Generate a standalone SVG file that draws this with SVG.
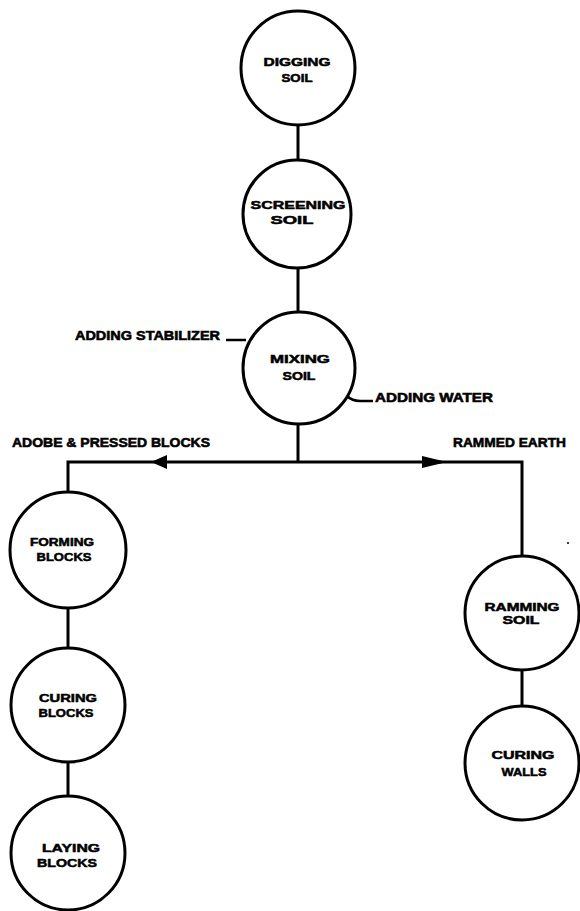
<svg xmlns="http://www.w3.org/2000/svg" width="580" height="911" viewBox="0 0 580 911">
<style>
.node{fill:#fff;stroke:#000;stroke-width:3}
.wire{fill:none;stroke:#000;stroke-width:3}
.lead{fill:none;stroke:#000;stroke-width:2.5}
.head{fill:#000}
.nt{font-family:"Liberation Sans",Arial,sans-serif;font-weight:bold;font-size:11px;fill:#000;stroke:#000;stroke-width:0.5;text-anchor:middle}
.lt{font-family:"Liberation Sans",Arial,sans-serif;font-weight:bold;font-size:13.5px;fill:#000;stroke:#000;stroke-width:0.6}
</style>
<rect width="580" height="911" fill="#fff"/>
<g id="connectors">
<line class="wire" x1="298" y1="125" x2="298" y2="160"/>
<line class="wire" x1="298" y1="268" x2="298" y2="312"/>
<line class="wire" x1="298" y1="424" x2="298" y2="462"/>
<polyline class="wire" points="68,493 68,462 522,462 522,556"/>
<polygon class="head" points="151,462 167,455 167,469"/>
<polygon class="head" points="447,462 422,456 422,468"/>
<line class="wire" x1="68" y1="607" x2="68" y2="648"/>
<line class="wire" x1="68" y1="762" x2="68" y2="796"/>
<line class="wire" x1="522" y1="670" x2="522" y2="706"/>
<path class="lead" d="M226,340 H246"/>
<path class="lead" d="M347,396 Q352,401 360,401 H373"/>
</g>
<g id="labels">
<text class="lt" x="75" y="340" textLength="145" lengthAdjust="spacingAndGlyphs">ADDING STABILIZER</text>
<text class="lt" x="375" y="402" textLength="118" lengthAdjust="spacingAndGlyphs">ADDING WATER</text>
<text class="lt" x="12" y="447" textLength="198" lengthAdjust="spacingAndGlyphs">ADOBE &amp; PRESSED BLOCKS</text>
<text class="lt" x="453" y="447" textLength="113" lengthAdjust="spacingAndGlyphs">RAMMED EARTH</text>
</g>
<g id="digging">
<circle class="node" cx="298" cy="68" r="57"/>
<text class="nt" x="297" y="66" textLength="67" lengthAdjust="spacingAndGlyphs">DIGGING</text>
<text class="nt" x="297" y="82" textLength="31" lengthAdjust="spacingAndGlyphs">SOIL</text>
</g>
<g id="screening">
<circle class="node" cx="297" cy="214" r="54"/>
<text class="nt" x="298" y="209" textLength="95" lengthAdjust="spacingAndGlyphs">SCREENING</text>
<text class="nt" x="292" y="224" textLength="43" lengthAdjust="spacingAndGlyphs">SOIL</text>
</g>
<g id="mixing">
<circle class="node" cx="299" cy="368" r="56"/>
<text class="nt" x="300" y="363" textLength="60" lengthAdjust="spacingAndGlyphs">MIXING</text>
<text class="nt" x="299" y="380" textLength="33" lengthAdjust="spacingAndGlyphs">SOIL</text>
</g>
<g id="forming">
<circle class="node" cx="68" cy="550" r="58"/>
<text class="nt" x="62" y="546" textLength="64" lengthAdjust="spacingAndGlyphs">FORMING</text>
<text class="nt" x="64" y="561" textLength="55" lengthAdjust="spacingAndGlyphs">BLOCKS</text>
</g>
<g id="curing-blocks">
<circle class="node" cx="68" cy="705" r="57"/>
<text class="nt" x="68" y="702" textLength="58" lengthAdjust="spacingAndGlyphs">CURING</text>
<text class="nt" x="66" y="717" textLength="55" lengthAdjust="spacingAndGlyphs">BLOCKS</text>
</g>
<g id="laying">
<circle class="node" cx="68" cy="853" r="57"/>
<text class="nt" x="71" y="852" textLength="58" lengthAdjust="spacingAndGlyphs">LAYING</text>
<text class="nt" x="67" y="867" textLength="60" lengthAdjust="spacingAndGlyphs">BLOCKS</text>
</g>
<g id="ramming">
<circle class="node" cx="522" cy="613" r="57"/>
<text class="nt" x="522" y="611" textLength="75" lengthAdjust="spacingAndGlyphs">RAMMING</text>
<text class="nt" x="521" y="624" textLength="37" lengthAdjust="spacingAndGlyphs">SOIL</text>
</g>
<g id="curing-walls">
<circle class="node" cx="522" cy="763" r="57"/>
<text class="nt" x="523" y="759" textLength="63" lengthAdjust="spacingAndGlyphs">CURING</text>
<text class="nt" x="524" y="776" textLength="45" lengthAdjust="spacingAndGlyphs">WALLS</text>
</g>
<g id="specks" fill="#000">
<circle cx="568" cy="543" r="1"/>
</g>
</svg>
